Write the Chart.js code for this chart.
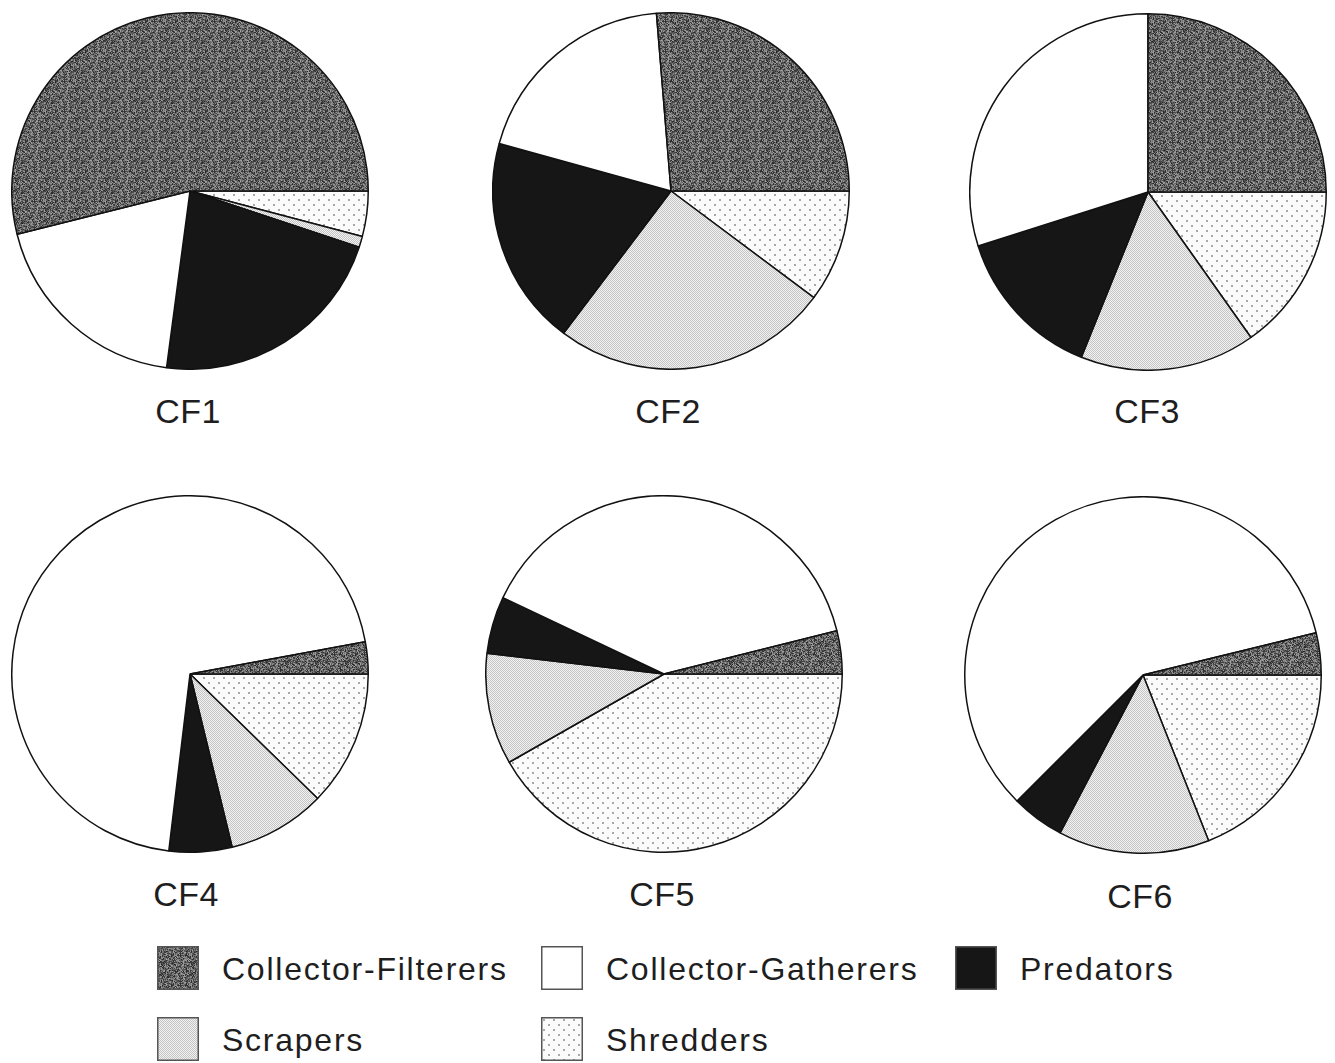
<!DOCTYPE html>
<html><head><meta charset="utf-8">
<script src="https://cdn.jsdelivr.net/npm/chart.js@4.4.1/dist/chart.umd.min.js"></script>
<style>
body{margin:0;background:#fff;width:1335px;height:1063px;position:relative;overflow:hidden;font-family:"Liberation Sans",Arial,sans-serif;color:#1e1e1e;}
.pie{position:absolute;}
.lab{position:absolute;font-size:34px;line-height:34px;transform:translateX(-50%);white-space:nowrap;letter-spacing:0.5px;}
.sw{position:absolute;}
.lt{position:absolute;font-size:32px;line-height:32px;letter-spacing:1.75px;white-space:nowrap;}
</style></head><body>
<script>
// ---- data (percent of each site's community) ----
const sites = ["CF1","CF2","CF3","CF4","CF5","CF6"];
const groups = ["Collector-Filterers","Collector-Gatherers","Predators","Scrapers","Shredders"];
const collectorFilterers = [53.9, 26.3, 25.0, 2.9, 3.9, 3.8];
const collectorGatherers = [19.0, 19.4, 29.9, 70.2, 39.1, 58.7];
const predators          = [22.0, 19.0, 14.0, 5.7, 5.2, 4.8];
const scrapers           = [1.0, 25.1, 15.9, 8.9, 10.1, 13.7];
const shredders          = [4.1, 10.2, 15.2, 12.3, 41.8, 19.0];

// ---- layout ----
const centers = [[190,191],[671,191],[1148,192],[190,674],[664,674],[1143,675]];
const labelPos = [[188,394],[668,394],[1147,394],[186,877],[662,877],[1140,879]];
const SIZE = 358;

// ---- fill patterns ----
function tile(w,h,draw){const c=document.createElement('canvas');c.width=w;c.height=h;const g=c.getContext('2d');draw(g);return c;}
const cfTile = tile(30,30,g=>{
  for(let y=0;y<30;y++)for(let x=0;x<30;x++){
    const v=((x*53+y*97+((x*y)%11)*29+((x+3)*(y+5))%13*17)%130);
    const gray=35+v; g.fillStyle=`rgb(${gray},${gray},${gray})`; g.fillRect(x,y,1,1);
  }
});
const scrTile = tile(2,2,g=>{g.fillStyle='#f2f2f2';g.fillRect(0,0,2,2);g.fillStyle='#c4c4c4';g.fillRect(0,0,1,1);g.fillRect(1,1,1,1);});
const shrTile = tile(10,10,g=>{g.fillStyle='#fbfbfb';g.fillRect(0,0,10,10);g.fillStyle='#a8a8a8';g.fillRect(2,2,2,2);g.fillRect(7,7,2,2);});
const ctx0 = document.createElement('canvas').getContext('2d');
const fills = {
  "Collector-Filterers": ctx0.createPattern(cfTile,'repeat'),
  "Collector-Gatherers": '#ffffff',
  "Predators": '#161616',
  "Scrapers": ctx0.createPattern(scrTile,'repeat'),
  "Shredders": ctx0.createPattern(shrTile,'repeat')
};

// ---- pies (drawn clockwise from 3 o'clock in reverse legend order = counter-clockwise in legend order) ----
sites.forEach((s,i)=>{
  const cv=document.createElement('canvas');
  cv.className='pie';cv.width=SIZE;cv.height=SIZE;
  cv.style.left=(centers[i][0]-SIZE/2)+'px';cv.style.top=(centers[i][1]-SIZE/2)+'px';
  cv.style.width=SIZE+'px';cv.style.height=SIZE+'px';
  document.body.appendChild(cv);
  const order=[...groups].reverse();
  const vals={ "Collector-Filterers":collectorFilterers[i],"Collector-Gatherers":collectorGatherers[i],
    "Predators":predators[i],"Scrapers":scrapers[i],"Shredders":shredders[i]};
  new Chart(cv,{type:'pie',
    data:{labels:order,datasets:[{data:order.map(k=>vals[k]),backgroundColor:order.map(k=>fills[k]),
      borderColor:'#111',borderWidth:1.5,hoverOffset:0}]},
    options:{responsive:false,animation:false,events:[],rotation:90,layout:{padding:0},
      plugins:{legend:{display:false},tooltip:{enabled:false},title:{display:false}}}
  });
  const l=document.createElement('div');l.className='lab';l.textContent=s;
  l.style.left=labelPos[i][0]+'px';l.style.top=labelPos[i][1]+'px';document.body.appendChild(l);
});

// ---- legend ----
const legendPos = {"Collector-Filterers":[157,946],"Collector-Gatherers":[541,946],"Predators":[955,946],
  "Scrapers":[157,1017],"Shredders":[541,1017]};
groups.forEach(k=>{
  const [x,y]=legendPos[k];
  const sw=document.createElement('canvas');sw.className='sw';sw.width=42;sw.height=44;
  sw.style.left=x+'px';sw.style.top=y+'px';document.body.appendChild(sw);
  const g=sw.getContext('2d');g.fillStyle=fills[k];g.fillRect(0,0,42,44);
  g.strokeStyle='#555';g.lineWidth=1.5;g.strokeRect(0.75,0.75,40.5,42.5);
  const t=document.createElement('div');t.className='lt';t.textContent=k;
  t.style.left=(x+65)+'px';t.style.top=(y+7)+'px';document.body.appendChild(t);
});
</script>
</body></html>
